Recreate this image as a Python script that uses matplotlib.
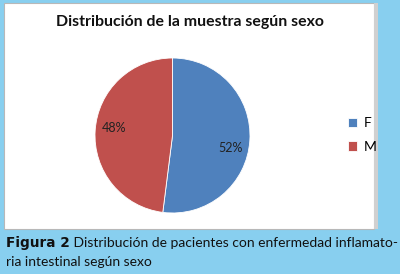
import matplotlib
matplotlib.use("Agg")
import matplotlib.pyplot as plt
from matplotlib.patches import Rectangle

labels = ["F", "M"]
values = [52, 48]
colors = ["#4f81bd", "#c0504d"]
title = "Distribución de la muestra según sexo"
cap_bold = "Figura 2"
cap_line1 = " Distribución de pacientes con enfermedad inflamato-"
cap_line2 = "ria intestinal según sexo"

W, H = 400, 274
fig = plt.figure(figsize=(4, 2.74), dpi=100, facecolor="#88cfef")

def fx(x):
    return x / W

def fy(y):
    return 1 - y / H

# white chart panel with gray border
fig.patches.append(Rectangle((fx(4), fy(229)), fx(374 - 4), (229 - 3) / H,
                             transform=fig.transFigure, facecolor="white",
                             edgecolor="#b8b8b8", lw=0.8, zorder=-2))
fig.patches.append(Rectangle((fx(374), fy(229)), fx(4), (229 - 3) / H,
                             transform=fig.transFigure, facecolor="#d0d0d0",
                             edgecolor="none", zorder=-2))

# pie
cx, cy, r = 172.5, 135.5, 77.5
ax = fig.add_axes([fx(cx - r), fy(cy + r), 2 * r / W, 2 * r / H])
ax.patch.set_visible(False)
wedges, texts, autotexts = ax.pie(values, colors=colors, startangle=90, counterclock=False,
                                  autopct="%d%%", pctdistance=0.75,
                                  wedgeprops=dict(edgecolor="white", linewidth=0.6),
                                  textprops=dict(fontsize=9, color="#222222", family="Lato"))
# excel-like label placement: nudge labels a bit
for a, dy in zip(autotexts, [-0.12, 0.05]):
    x0, y0 = a.get_position()
    a.set_position((x0, y0 + dy))
ax.set_xlim(-1, 1)
ax.set_ylim(-1, 1)
ax.set_aspect("equal")
ax.axis("off")

fig.text(fx(190), fy(22), title, ha="center", va="center", fontsize=11.4,
         fontweight="bold", family="Lato", color="#111111")

fig.legend(wedges, labels, loc="center left", bbox_to_anchor=(fx(335), fy(135)),
           frameon=False, handlelength=0.7, handleheight=0.7, handletextpad=0.5,
           labelspacing=0.8, prop=dict(family="Lato", size=10))

# caption
t = fig.text(fx(6), fy(243), cap_bold, ha="left", va="center", fontsize=9.8,
             fontweight="bold", family="DejaVu Sans", color="#111111")
fig.canvas.draw()
bb = t.get_window_extent()
fig.text(bb.x1 / fig.dpi / fig.get_figwidth(), fy(243), cap_line1, ha="left", va="center",
         fontsize=10, family="Lato", color="#111111")
fig.text(fx(6), fy(262), cap_line2, ha="left", va="center", fontsize=10,
         family="Lato", color="#111111")

fig.savefig("out.png", dpi=100, facecolor=fig.get_facecolor())
